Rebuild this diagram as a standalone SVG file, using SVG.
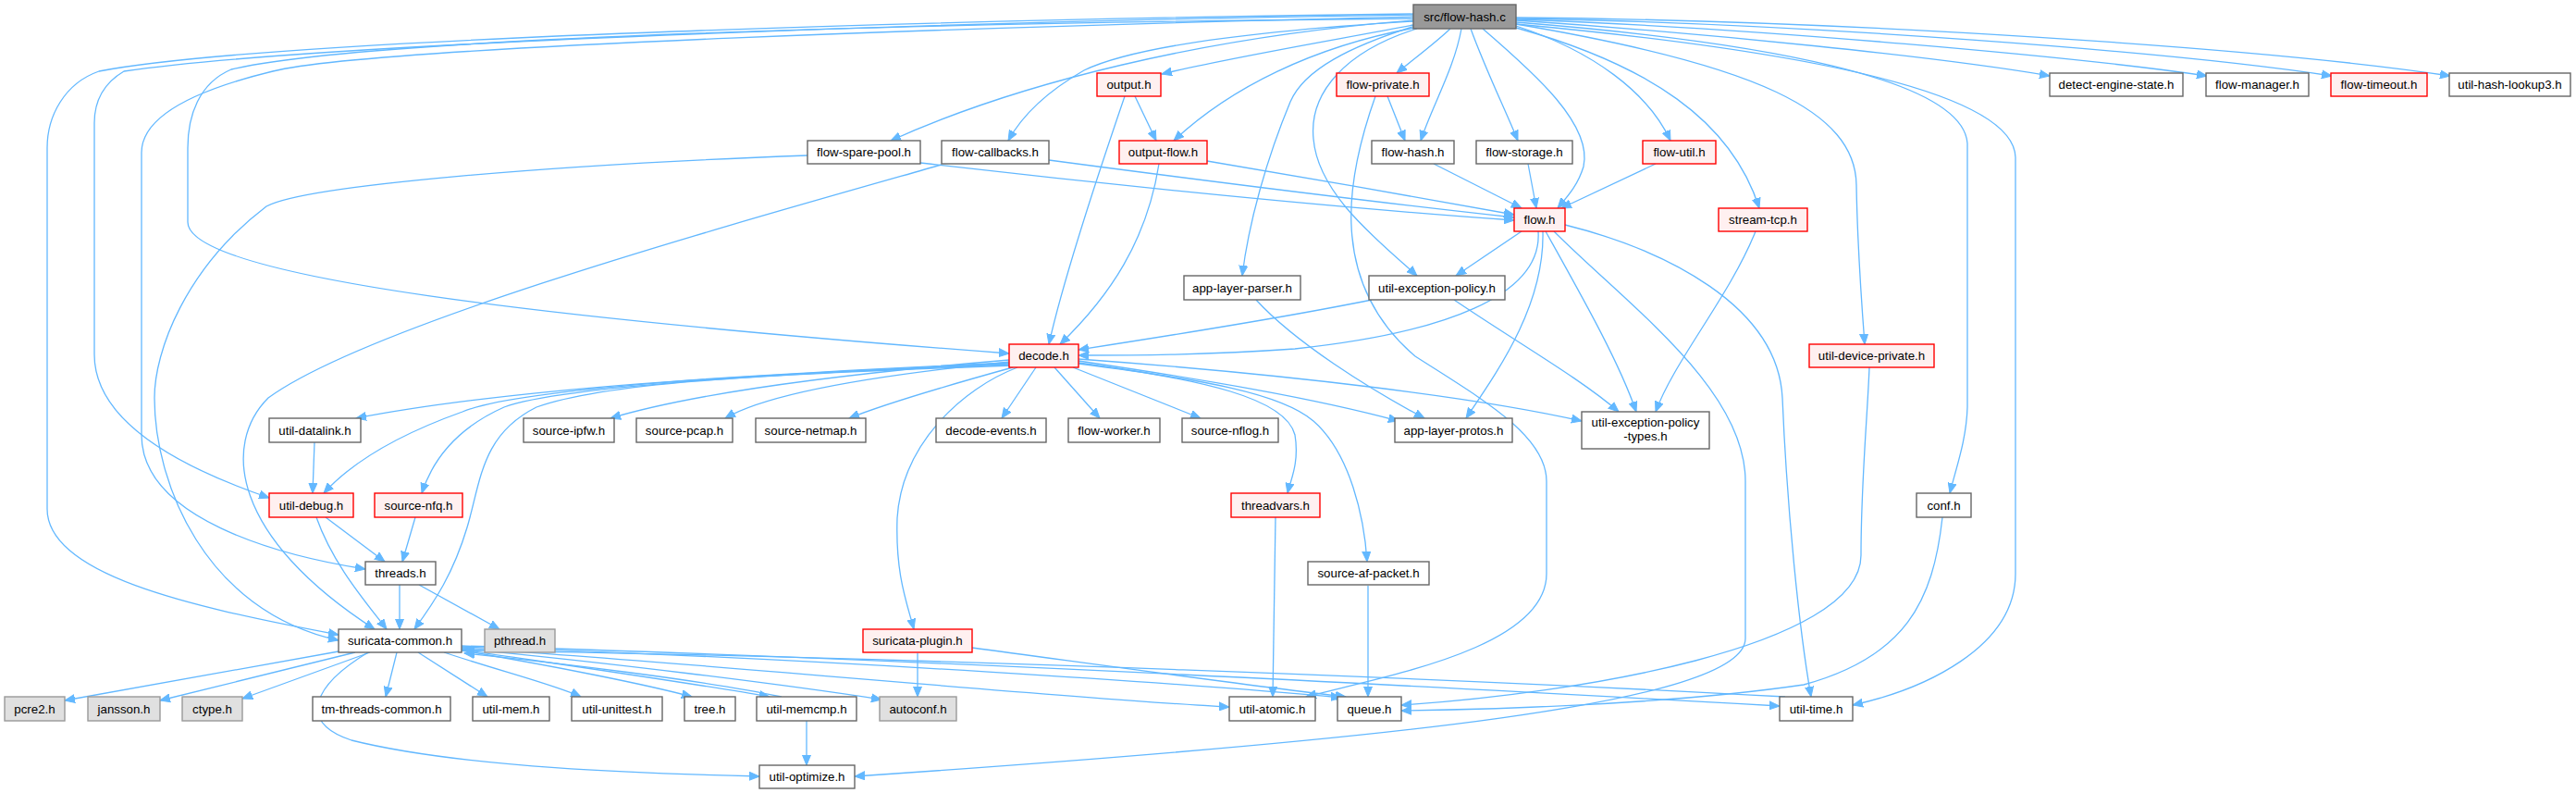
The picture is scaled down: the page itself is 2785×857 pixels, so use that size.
<svg xmlns="http://www.w3.org/2000/svg" width="2785" height="857" viewBox="0 0 2785 857">
<style>
rect{stroke-width:1.4}
.n rect{fill:#ffffff;stroke:#666666}
.r rect{fill:#FFF0F0;stroke:#FF0000}
.g rect{fill:#E0E0E0;stroke:#999999}
.s rect{fill:#999999;stroke:#666666}
text{font-family:"Liberation Sans",Arial,sans-serif;font-size:13.3px;text-anchor:middle;fill:#000000}
#edges path{fill:none;stroke:#63B8FF;stroke-width:1.3;marker-end:url(#a)}
</style>
<defs>
<marker id="a" markerWidth="12" markerHeight="10" refX="11" refY="5" orient="auto" markerUnits="userSpaceOnUse"><path d="M0,0.5 L11,5 L0,9.5 z" fill="#63B8FF" stroke="#63B8FF" stroke-width="1"/></marker>
</defs>
<rect width="2785" height="857" fill="#ffffff"/>
<g id="edges">
<path d="M1528,27 C1450,42 1330,62 1256,80"/>
<path d="M1568,31 C1550,48 1528,64 1510,79"/>
<path d="M1580,31 C1572,75 1548,115 1536,152"/>
<path d="M1590,31 C1606,75 1628,120 1641,152"/>
<path d="M1603,31 C1660,80 1722,135 1712,180 C1706,200 1695,212 1684,225"/>
<path d="M1639,28 C1722,55 1782,100 1806,152"/>
<path d="M1639,30 C1782,70 1872,130 1902,225"/>
<path d="M1639,26 C1900,70 2006,120 2007,200 C2008,260 2012,320 2016,372"/>
<path d="M1639,22 C1850,36 2100,62 2216,82"/>
<path d="M1639,21 C1900,30 2250,62 2386,82"/>
<path d="M1639,20 C1950,25 2350,56 2521,82"/>
<path d="M1639,19 C2000,22 2450,52 2649,82"/>
<path d="M1639,24 C1905,45 2122,85 2127,155 L2127,440 C2126,475 2115,505 2108,533"/>
<path d="M1639,26 C1952,55 2177,100 2179,170 L2179,620 C2179,700 2080,745 2003,762"/>
<path d="M1528,22 C1300,40 1100,90 963,152"/>
<path d="M1528,23 C1380,32 1230,48 1172,76 C1130,100 1105,125 1090,152"/>
<path d="M1530,30 C1420,50 1330,95 1269,152"/>
<path d="M1530,28 C1460,50 1410,75 1395,110 C1370,170 1350,240 1343,298"/>
<path d="M1532,31 C1455,55 1415,100 1420,150 C1425,210 1490,260 1532,298"/>
<path d="M1528,20 C1000,25 400,40 250,75 C215,90 203,125 203,160 L203,240 C203,300 600,345 1091,382"/>
<path d="M1528,15 C1100,20 300,40 107,77 C70,90 51,125 51,160 L51,550 C51,620 200,655 366,686"/>
<path d="M1528,16 C1100,22 350,45 134,77 C112,90 102,110 102,133 L102,383 C102,450 180,500 291,538"/>
<path d="M1528,18 C1100,28 400,50 295,77 C200,100 153,130 153,165 L153,470 C153,560 300,600 395,615"/>
<path d="M1227,104 L1250,152"/>
<path d="M1216,104 C1190,180 1150,300 1134,372"/>
<path d="M1305,174 C1400,190 1550,216 1637,232"/>
<path d="M1253,177 C1240,260 1200,320 1146,372"/>
<path d="M995,176 C1200,200 1450,225 1637,238"/>
<path d="M1134,173 C1300,195 1500,220 1637,235"/>
<path d="M873,168 C600,178 330,200 288,223 C200,290 167,380 167,430 C167,520 220,660 366,692"/>
<path d="M1018,178 C800,240 400,350 290,430 C240,480 250,580 405,680"/>
<path d="M1500,104 L1519,152"/>
<path d="M1487,104 C1460,180 1430,300 1530,385 C1600,430 1672,470 1672,520 L1672,620 C1672,700 1500,730 1412,753"/>
<path d="M1550,177 L1645,225"/>
<path d="M1652,177 L1661,225"/>
<path d="M1790,177 L1688,225"/>
<path d="M1898,250 C1870,320 1810,390 1790,445"/>
<path d="M1645,250 L1574,298"/>
<path d="M1663,250 C1668,320 1560,360 1400,377 C1300,384 1220,384 1166,384"/>
<path d="M1668,250 C1670,330 1620,400 1585,452"/>
<path d="M1671,250 C1710,320 1750,390 1769,445"/>
<path d="M1680,250 C1760,330 1887,420 1887,520 L1887,690 C1887,760 1500,800 924,839"/>
<path d="M1692,243 C1800,270 1922,330 1927,430 C1932,550 1945,680 1958,753"/>
<path d="M1358,324 C1400,370 1480,420 1540,452"/>
<path d="M1483,324 C1380,345 1250,365 1166,378"/>
<path d="M1572,324 C1640,370 1710,410 1750,445"/>
<path d="M2021,397 C2019,450 2012,520 2012,600 C2012,700 1700,750 1515,762"/>
<path d="M2100,559 C2090,650 2060,710 1950,740 C1800,762 1600,767 1515,768"/>
<path d="M1379,559 L1376,753"/>
<path d="M1479,633 L1479,753"/>
<path d="M992,706 L992,753"/>
<path d="M1051,700 C1200,720 1380,745 1455,753"/>
<path d="M1091,392 C800,405 550,420 385,452"/>
<path d="M1091,393 C800,405 560,420 500,445 C430,470 380,500 350,533"/>
<path d="M1092,394 C800,405 600,420 545,440 C500,460 470,490 456,533"/>
<path d="M1095,395 C800,405 650,415 580,440 C520,470 520,520 505,570 C490,620 470,650 448,680"/>
<path d="M1091,389 C900,405 750,425 660,452"/>
<path d="M1092,391 C950,405 830,425 784,452"/>
<path d="M1095,397 C1030,415 960,435 918,452"/>
<path d="M1120,397 L1083,452"/>
<path d="M1140,397 L1189,452"/>
<path d="M1160,397 L1298,452"/>
<path d="M1166,390 C1300,410 1420,430 1512,455"/>
<path d="M1166,388 C1400,405 1600,430 1710,455"/>
<path d="M1166,392 C1300,410 1390,430 1400,470 C1405,500 1395,520 1392,533"/>
<path d="M1166,393 C1300,410 1385,425 1420,455 C1460,490 1475,560 1478,607"/>
<path d="M1100,397 C1040,420 975,480 970,560 C968,620 980,650 988,680"/>
<path d="M340,478 L338,533"/>
<path d="M352,559 L416,607"/>
<path d="M342,559 C360,610 395,650 418,680"/>
<path d="M449,559 L435,607"/>
<path d="M432,632 L432,680"/>
<path d="M453,632 L540,680"/>
<path d="M366,704 L70,757"/>
<path d="M384,705 L173,757"/>
<path d="M400,705 L262,755"/>
<path d="M429,705 L417,753"/>
<path d="M452,705 L527,753"/>
<path d="M480,705 C540,725 600,740 628,753"/>
<path d="M499,703 C600,720 700,740 748,753"/>
<path d="M499,702 C620,720 760,740 832,753"/>
<path d="M499,701 C650,715 850,740 953,756"/>
<path d="M499,700 C800,720 1150,755 1329,764"/>
<path d="M499,699 C900,712 1300,740 1450,754"/>
<path d="M499,698 C1000,712 1600,745 1924,763"/>
<path d="M398,705 C340,740 320,780 380,800 C500,830 700,836 821,839"/>
<path d="M845,753 C760,735 600,716 502,706"/>
<path d="M1930,753 C1600,735 1000,710 502,703"/>
<path d="M872,779 L872,827"/>
</g>
<g id="n-src" class="s"><rect x="1528" y="5" width="111" height="26"/><text x="1583.5" y="22.7">src/flow-hash.c</text></g>
<g id="n-output" class="r"><rect x="1186" y="79" width="69" height="25"/><text x="1220.5" y="96.2">output.h</text></g>
<g id="n-flow-private" class="r"><rect x="1445" y="79" width="100" height="25"/><text x="1495" y="96.2">flow-private.h</text></g>
<g id="n-detect-engine-state" class="n"><rect x="2216" y="79" width="144" height="25"/><text x="2288" y="96.2">detect-engine-state.h</text></g>
<g id="n-flow-manager" class="n"><rect x="2385" y="79" width="111" height="25"/><text x="2440.5" y="96.2">flow-manager.h</text></g>
<g id="n-flow-timeout" class="r"><rect x="2520" y="79" width="104" height="25"/><text x="2572" y="96.2">flow-timeout.h</text></g>
<g id="n-util-hash-lookup3" class="n"><rect x="2648" y="79" width="131" height="25"/><text x="2713.5" y="96.2">util-hash-lookup3.h</text></g>
<g id="n-flow-spare-pool" class="n"><rect x="873" y="152" width="122" height="25"/><text x="934" y="169.2">flow-spare-pool.h</text></g>
<g id="n-flow-callbacks" class="n"><rect x="1018" y="152" width="116" height="25"/><text x="1076" y="169.2">flow-callbacks.h</text></g>
<g id="n-output-flow" class="r"><rect x="1210" y="152" width="95" height="25"/><text x="1257.5" y="169.2">output-flow.h</text></g>
<g id="n-flow-hash" class="n"><rect x="1483" y="152" width="89" height="25"/><text x="1527.5" y="169.2">flow-hash.h</text></g>
<g id="n-flow-storage" class="n"><rect x="1596" y="152" width="104" height="25"/><text x="1648" y="169.2">flow-storage.h</text></g>
<g id="n-flow-util" class="r"><rect x="1776" y="152" width="79" height="25"/><text x="1815.5" y="169.2">flow-util.h</text></g>
<g id="n-flow" class="r"><rect x="1637" y="225" width="55" height="25"/><text x="1664.5" y="242.2">flow.h</text></g>
<g id="n-stream-tcp" class="r"><rect x="1858" y="225" width="96" height="25"/><text x="1906" y="242.2">stream-tcp.h</text></g>
<g id="n-app-layer-parser" class="n"><rect x="1280" y="298" width="126" height="26"/><text x="1343" y="315.7">app-layer-parser.h</text></g>
<g id="n-util-exception-policy" class="n"><rect x="1480" y="298" width="147" height="26"/><text x="1553.5" y="315.7">util-exception-policy.h</text></g>
<g id="n-decode" class="r"><rect x="1091" y="372" width="75" height="25"/><text x="1128.5" y="389.2">decode.h</text></g>
<g id="n-util-device-private" class="r"><rect x="1956" y="372" width="135" height="25"/><text x="2023.5" y="389.2">util-device-private.h</text></g>
<g id="n-util-datalink" class="n"><rect x="291" y="452" width="99" height="26"/><text x="340.5" y="469.7">util-datalink.h</text></g>
<g id="n-source-ipfw" class="n"><rect x="566" y="452" width="98" height="26"/><text x="615" y="469.7">source-ipfw.h</text></g>
<g id="n-source-pcap" class="n"><rect x="688" y="452" width="104" height="26"/><text x="740" y="469.7">source-pcap.h</text></g>
<g id="n-source-netmap" class="n"><rect x="817" y="452" width="119" height="26"/><text x="876.5" y="469.7">source-netmap.h</text></g>
<g id="n-decode-events" class="n"><rect x="1012" y="452" width="119" height="26"/><text x="1071.5" y="469.7">decode-events.h</text></g>
<g id="n-flow-worker" class="n"><rect x="1155" y="452" width="99" height="26"/><text x="1204.5" y="469.7">flow-worker.h</text></g>
<g id="n-source-nflog" class="n"><rect x="1278" y="452" width="104" height="26"/><text x="1330" y="469.7">source-nflog.h</text></g>
<g id="n-app-layer-protos" class="n"><rect x="1508" y="452" width="127" height="26"/><text x="1571.5" y="469.7">app-layer-protos.h</text></g>
<g id="n-util-exception-policy-types" class="n"><rect x="1710" y="445" width="138" height="40"/><text x="1779" y="461">util-exception-policy</text><text x="1779" y="476">-types.h</text></g>
<g id="n-util-debug" class="r"><rect x="291" y="533" width="91" height="26"/><text x="336.5" y="550.7">util-debug.h</text></g>
<g id="n-source-nfq" class="r"><rect x="405" y="533" width="95" height="26"/><text x="452.5" y="550.7">source-nfq.h</text></g>
<g id="n-threadvars" class="r"><rect x="1331" y="533" width="96" height="26"/><text x="1379" y="550.7">threadvars.h</text></g>
<g id="n-conf" class="n"><rect x="2072" y="533" width="59" height="26"/><text x="2101.5" y="550.7">conf.h</text></g>
<g id="n-threads" class="n"><rect x="395" y="607" width="76" height="25"/><text x="433" y="624.2">threads.h</text></g>
<g id="n-source-af-packet" class="n"><rect x="1414" y="607" width="131" height="25"/><text x="1479.5" y="624.2">source-af-packet.h</text></g>
<g id="n-suricata-common" class="n"><rect x="366" y="680" width="133" height="25"/><text x="432.5" y="697.2">suricata-common.h</text></g>
<g id="n-pthread" class="g"><rect x="524" y="680" width="76" height="25"/><text x="562" y="697.2">pthread.h</text></g>
<g id="n-suricata-plugin" class="r"><rect x="933" y="680" width="118" height="25"/><text x="992" y="697.2">suricata-plugin.h</text></g>
<g id="n-pcre2" class="g"><rect x="5" y="753" width="65" height="26"/><text x="37.5" y="770.7">pcre2.h</text></g>
<g id="n-jansson" class="g"><rect x="95" y="753" width="78" height="26"/><text x="134" y="770.7">jansson.h</text></g>
<g id="n-ctype" class="g"><rect x="197" y="753" width="65" height="26"/><text x="229.5" y="770.7">ctype.h</text></g>
<g id="n-tm-threads-common" class="n"><rect x="338" y="753" width="149" height="26"/><text x="412.5" y="770.7">tm-threads-common.h</text></g>
<g id="n-util-mem" class="n"><rect x="511" y="753" width="83" height="26"/><text x="552.5" y="770.7">util-mem.h</text></g>
<g id="n-util-unittest" class="n"><rect x="618" y="753" width="98" height="26"/><text x="667" y="770.7">util-unittest.h</text></g>
<g id="n-tree" class="n"><rect x="740" y="753" width="55" height="26"/><text x="767.5" y="770.7">tree.h</text></g>
<g id="n-util-memcmp" class="n"><rect x="818" y="753" width="108" height="26"/><text x="872" y="770.7">util-memcmp.h</text></g>
<g id="n-autoconf" class="g"><rect x="951" y="753" width="83" height="26"/><text x="992.5" y="770.7">autoconf.h</text></g>
<g id="n-util-atomic" class="n"><rect x="1329" y="753" width="93" height="26"/><text x="1375.5" y="770.7">util-atomic.h</text></g>
<g id="n-queue" class="n"><rect x="1446" y="753" width="69" height="26"/><text x="1480.5" y="770.7">queue.h</text></g>
<g id="n-util-time" class="n"><rect x="1924" y="753" width="79" height="26"/><text x="1963.5" y="770.7">util-time.h</text></g>
<g id="n-util-optimize" class="n"><rect x="821" y="827" width="103" height="25"/><text x="872.5" y="844.2">util-optimize.h</text></g>
</svg>
